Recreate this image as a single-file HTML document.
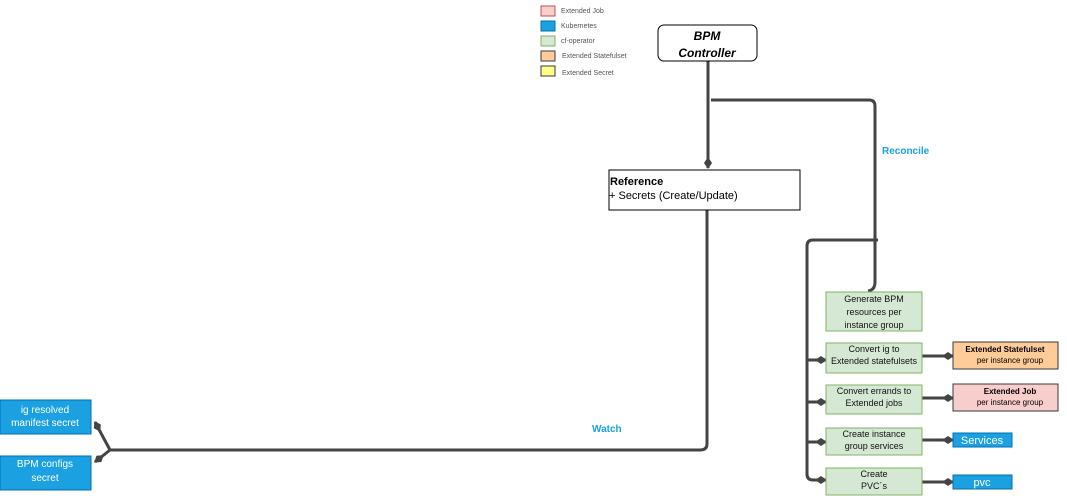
<!DOCTYPE html>
<html><head><style>body{margin:0;background:#fff}svg{display:block;font-family:"Liberation Sans",sans-serif}</style></head><body>
<svg width="1067" height="500" viewBox="0 0 1067 500">
<defs>
<marker id="d" viewBox="0 0 12 8" refX="11" refY="4" markerWidth="12" markerHeight="8" markerUnits="userSpaceOnUse" orient="auto"><path d="M0 4L6 0L12 4L6 8Z" fill="#444"/></marker>
</defs>
<g font-size="7" fill="#555">
<rect x="541" y="6" width="14" height="10" fill="#f8cecc" stroke="#b85450"/><text x="561" y="13">Extended Job</text>
<rect x="541" y="21" width="14" height="10" fill="#1ba1e2" stroke="#006eaf"/><text x="561" y="28">Kubernetes</text>
<rect x="541" y="36" width="14" height="10" fill="#d5e8d4" stroke="#82b366"/><text x="561" y="43">cf-operator</text>
<rect x="541" y="51" width="14" height="10" fill="#ffcc99" stroke="#36393d"/><text x="562" y="58">Extended Statefulset</text>
<rect x="541" y="66" width="14" height="10" fill="#ffff88" stroke="#36393d"/><text x="562" y="75">Extended Secret</text>
</g>
<g fill="none" stroke="#444" stroke-width="3">
<path d="M708 61V168" marker-end="url(#d)"/>
<path d="M711 100H869Q875 100 875 106V282Q875 290 868 291"/>
<path d="M707 210V444Q707 450 700 450H110"/>
<path d="M110 450L95 422" marker-end="url(#d)"/>
<path d="M110 450L95 462" marker-end="url(#d)"/>
<path d="M878 240H813Q807 240 807 246V474Q807 480 813 480H826" marker-end="url(#d)"/>
<path d="M807 360H826" marker-end="url(#d)"/>
<path d="M807 402H826" marker-end="url(#d)"/>
<path d="M807 442H826" marker-end="url(#d)"/>
<path d="M922 356H953" marker-end="url(#d)"/>
<path d="M922 398H953" marker-end="url(#d)"/>
<path d="M922 440H953" marker-end="url(#d)"/>
<path d="M922 482H953" marker-end="url(#d)"/>
</g>
<rect x="658" y="25" width="99" height="36" rx="6" fill="#fff" stroke="#000"/>
<text x="707" y="40" font-size="12" font-weight="bold" font-style="italic" text-anchor="middle">BPM</text>
<text x="707" y="57" font-size="12" font-weight="bold" font-style="italic" text-anchor="middle">Controller</text>
<rect x="609" y="170" width="191" height="40" fill="#fff" stroke="#000"/>
<text x="610" y="185" font-size="11" font-weight="bold">Reference</text>
<text x="609" y="199" font-size="11">+ Secrets (Create/Update)</text>
<text x="882" y="154" font-size="10" font-weight="bold" fill="#1ba1e2">Reconcile</text>
<text x="592" y="432" font-size="10" font-weight="bold" fill="#1ba1e2">Watch</text>
<g fill="#d5e8d4" stroke="#82b366">
<rect x="826" y="292" width="96" height="39"/><rect x="826" y="343" width="96" height="30"/>
<rect x="826" y="385" width="96" height="29"/><rect x="826" y="428" width="96" height="27"/><rect x="826" y="468" width="96" height="27"/>
</g>
<g font-size="9" text-anchor="middle" fill="#111">
<text x="874" y="302">Generate BPM</text><text x="874" y="315">resources per</text><text x="874" y="328">instance group</text>
<text x="874" y="352">Convert ig to</text><text x="874" y="364">Extended statefulsets</text>
<text x="874" y="394">Convert errands to</text><text x="874" y="406">Extended jobs</text>
<text x="874" y="437">Create instance</text><text x="874" y="449">group services</text>
<text x="874" y="477">Create</text><text x="874" y="489">PVC´s</text>
</g>
<rect x="953" y="342" width="105" height="27" fill="#ffcc99" stroke="#36393d"/>
<text x="1005" y="352" font-size="8" font-weight="bold" text-anchor="middle">Extended Statefulset</text>
<text x="1010" y="363" font-size="8" text-anchor="middle">per instance group</text>
<rect x="953" y="384" width="105" height="27" fill="#f8cecc" stroke="#36393d"/>
<text x="1010" y="394" font-size="8" font-weight="bold" text-anchor="middle">Extended Job</text>
<text x="1010" y="405" font-size="8" text-anchor="middle">per instance group</text>
<rect x="953" y="433" width="59" height="14" fill="#1ba1e2" stroke="#006eaf"/>
<text x="982" y="444" font-size="11" fill="#fff" text-anchor="middle">Services</text>
<rect x="953" y="475" width="59" height="14" fill="#1ba1e2" stroke="#006eaf"/>
<text x="982" y="486" font-size="11" fill="#fff" text-anchor="middle">pvc</text>
<rect x="0" y="400" width="91" height="34" fill="#1ba1e2" stroke="#006eaf"/>
<text x="45" y="413" font-size="10" fill="#fff" text-anchor="middle">ig resolved</text>
<text x="45" y="426" font-size="10" fill="#fff" text-anchor="middle">manifest secret</text>
<rect x="0" y="456" width="91" height="34" fill="#1ba1e2" stroke="#006eaf"/>
<text x="45" y="467" font-size="10" fill="#fff" text-anchor="middle">BPM configs</text>
<text x="45" y="481" font-size="10" fill="#fff" text-anchor="middle">secret</text>
</svg>
</body></html>
